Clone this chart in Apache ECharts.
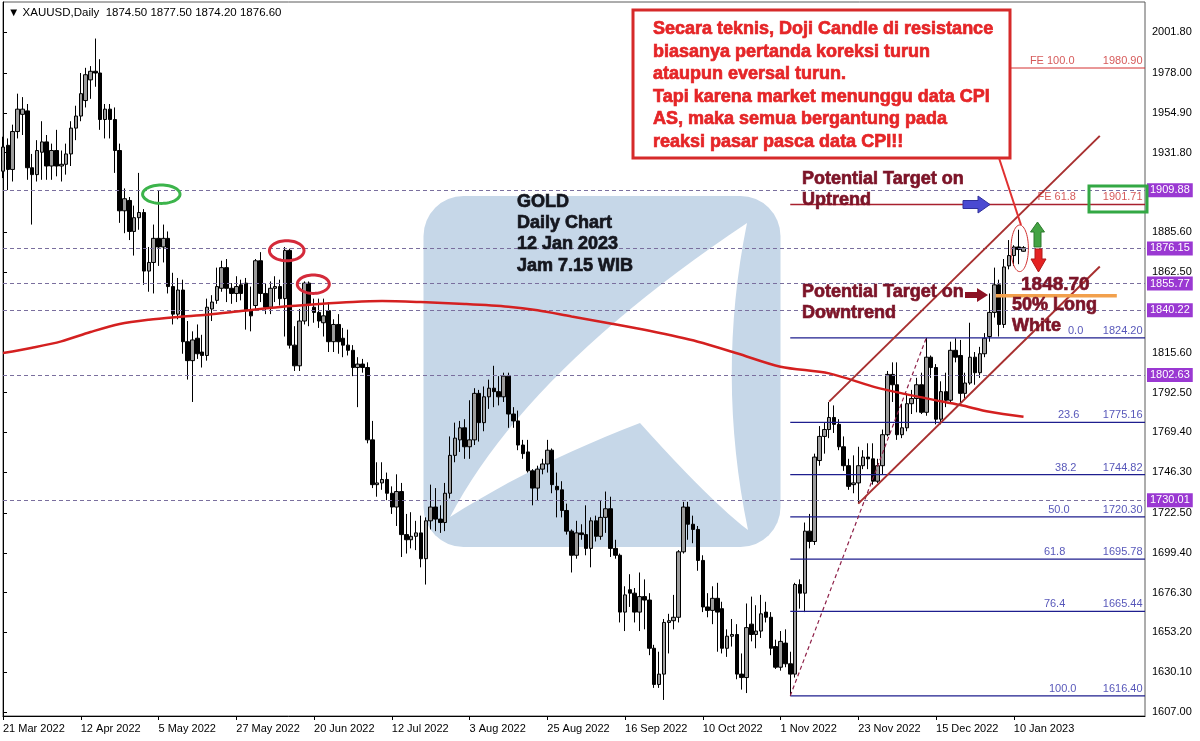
<!DOCTYPE html>
<html><head><meta charset="utf-8">
<script src="https://cdn.jsdelivr.net/npm/echarts@6/dist/echarts.min.js"></script>
<style>html,body{margin:0;padding:0;background:#fff}#c{width:1200px;height:741px}</style>
</head><body><div id="c"></div>
<script>
// ---------------- DATA ----------------
const holidays = ['2022-04-15', '2022-12-26', '2023-01-02'];
const futureSlots = 25;
const xTickEvery = 16;
const lastLabelIndex = 208;

const opens = [
1921,1936,1922,1944,1954,1956,1923,1919,1932,1938,
1924,1933,1924,1925,1931,1946,1953,1962,1974,1979,
1978,1951,1957,1951,1933,1898,1904,1886,1894,1897,
1863,1868,1882,1877,1882,1854,1838,1852,1822,1811,
1824,1816,1814,1841,1846,1853,1865,1853,1850,1855,
1856,1840,1843,1869,1850,1842,1853,1854,1847,1875,
1820,1808,1834,1856,1842,1839,1833,1840,1822,1832,
1824,1820,1817,1807,1809,1807,1765,1739,1740,1742,
1734,1726,1735,1710,1707,1709,1711,1696,1718,1726,
1719,1717,1734,1756,1765,1772,1761,1765,1792,1775,
1790,1795,1793,1790,1802,1780,1776,1762,1758,1747,
1737,1748,1751,1759,1738,1736,1724,1712,1698,1711,
1710,1702,1718,1709,1720,1725,1702,1698,1665,1678,
1676,1665,1674,1672,1644,1623,1629,1659,1660,1662,
1700,1726,1716,1713,1695,1668,1666,1673,1667,1644,
1651,1652,1629,1627,1658,1652,1654,1665,1662,1645,
1633,1647,1635,1629,1681,1676,1712,1706,1753,1767,
1771,1778,1774,1761,1750,1739,1740,1750,1755,1754,
1741,1750,1768,1803,1797,1768,1772,1786,1789,1797,
1781,1813,1807,1777,1793,1788,1817,1814,1792,1798,
1813,1804,1815,1825,1839,1855,1832,1866,1872,1877,
1874.5];
const highs = [
1941,1940,1948,1966,1964,1960,1931,1939,1950,1942,
1937,1945,1933,1937,1950,1959,1978,1981,1982,1998,
1986,1960,1960,1958,1937,1911,1906,1901,1920,1899,
1877,1890,1910,1890,1886,1862,1859,1858,1834,1828,
1832,1826,1847,1849,1865,1869,1870,1856,1860,1858,
1859,1854,1870,1874,1856,1857,1860,1858,1877,1876,
1831,1841,1857,1857,1847,1847,1847,1845,1835,1838,
1830,1829,1820,1813,1812,1810,1776,1752,1752,1746,
1738,1745,1740,1722,1723,1718,1721,1720,1739,1737,
1727,1740,1767,1775,1776,1777,1788,1795,1794,1796,
1800,1808,1802,1804,1804,1784,1782,1765,1765,1748,
1750,1754,1765,1760,1746,1741,1728,1713,1718,1716,
1727,1720,1721,1730,1735,1732,1707,1699,1680,1687,
1679,1688,1684,1676,1646,1642,1661,1664,1675,1701,
1729,1729,1721,1715,1698,1676,1680,1682,1671,1655,
1661,1658,1641,1670,1674,1669,1675,1671,1665,1649,
1654,1655,1642,1682,1684,1717,1722,1757,1773,1775,
1787,1785,1777,1767,1754,1756,1761,1759,1763,1763,
1754,1771,1805,1810,1810,1786,1792,1794,1801,1804,
1824.2,1814,1809,1799,1804,1822,1824,1823,1804,1833,
1816,1819,1827,1850,1865,1858,1870,1881,1878,1887,
1877.5];
const lows = [
1917,1910,1915,1940,1942,1916,1890,1915,1916,1916,
1916,1918,1915,1919,1924,1939,1950,1958,1963,1970,
1945,1940,1940,1920,1891,1885,1881,1872,1887,1855,
1851,1850,1866,1868,1850,1832,1835,1815,1800,1787,
1812,1807,1811,1834,1844,1851,1845,1844,1845,1846,
1829,1828,1841,1845,1838,1838,1845,1843,1825,1818,
1805,1805,1832,1831,1833,1830,1825,1816,1816,1815,
1813,1814,1802,1784,1804,1763,1737,1732,1736,1730,
1722,1715,1697,1699,1702,1701,1691,1681,1713,1712,
1711,1712,1731,1752,1758,1754,1754,1762,1764,1770,
1783,1784,1785,1787,1772,1772,1759,1754,1746,1727,
1730,1745,1746,1734,1720,1720,1710,1688,1696,1707,
1698,1691,1706,1707,1711,1697,1696,1659,1654,1668,
1659,1654,1655,1640,1621,1621,1614,1641,1655,1659,
1699,1707,1705,1689,1665,1662,1658,1642,1641,1639,
1645,1626,1620,1618,1648,1644,1650,1659,1640,1632,
1631,1633,1616.4,1627,1667,1665,1702,1704,1750,1757,
1766,1769,1759,1747,1736,1734,1728,1748,1748,1739,
1740,1745,1767,1787,1765,1766,1770,1780,1781,1780,
1779,1801,1774,1774,1784,1786,1810,1786,1789,1797,
1797,1801,1813,1822,1836,1825,1830,1864,1866,1867,
1874.2];
const closes = [
1935,1922,1944,1957,1957,1923,1919,1933,1938,1924,
1933,1924,1925,1931,1946,1953,1966,1977,1979,1978,
1951,1957,1951,1933,1898,1905,1886,1894,1897,1863,
1868,1882,1877,1882,1854,1838,1852,1822,1811,1823,
1815,1814,1842,1845,1854,1865,1853,1850,1854,1850,
1840,1837,1869,1850,1842,1853,1854,1847,1875,1820,
1808,1834,1856,1844,1839,1834,1837,1822,1832,1822,
1820,1817,1807,1809,1807,1765,1739,1740,1742,1734,
1726,1735,1710,1707,1709,1711,1696,1718,1726,1719,
1717,1734,1756,1766,1772,1761,1765,1792,1775,1790,
1795,1793,1790,1802,1780,1776,1762,1757,1747,1737,
1748,1751,1759,1739,1736,1724,1712,1698,1711,1710,
1702,1718,1709,1720,1725,1702,1698,1665,1675,1676,
1665,1674,1672,1644,1623,1629,1659,1660,1662,1700,
1726,1716,1713,1695,1668,1666,1673,1665,1644,1651,
1652,1629,1627,1656,1652,1654,1664,1662,1644,1633,
1648,1635,1629,1681,1676,1712,1706,1755,1767,1771,
1778,1774,1761,1750,1738,1740,1750,1755,1754,1741,
1750,1768,1803,1797,1768,1772,1786,1789,1797,1781,
1813,1807,1777,1793,1788,1817,1813,1792,1798,1813,
1804,1815,1824,1839,1855,1832,1865.4,1872,1877,1875.5,
1876.6];

// moving average: [bar index, price]
const maPoints = [[0,1815.4],[6,1818.5],[12,1822.2],[18,1827.6],[24,1832.3],[30,1834.8],[36,1836.4],[42,1837.7],[49,1839.8],[57,1842.2],[65,1843.9],[72,1845.1],[78,1845.6],[86,1845.0],[95,1843.9],[104,1842.3],[110,1840.2],[117,1836.6],[125,1832.6],[133,1828.3],[143,1822.0],[151,1815.3],[160,1807.5],[170,1803.6],[180,1795.2],[190,1789.1],[197,1785.2],[203,1781.3],[210,1778.4]];

const yTickValues = [2001.8,1978.0,1954.9,1931.8,1885.6,1862.5,1815.6,1792.5,1769.4,1746.3,1722.5,1699.4,1676.3,1653.2,1630.1,1607.0];
const srLevels = [1909.88, 1876.15, 1855.77, 1840.22, 1802.63, 1730.01];
const fibLevels = ['0.0','23.6','38.2','50.0','61.8','76.4','100.0'];
const fibValues = [1824.20, 1775.16, 1744.82, 1720.30, 1695.78, 1665.44, 1616.40];
const feLevels = ['FE 100.0', 'FE 61.8'];
const feValues = [1980.90, 1901.71];
const fibStart = 162;          // bar of the swing low
const fibDiagonal = [[162,1616.40],[190,1824.20]];
const channelUpper = [[170,1787.2],[225.7,1941.5]];
const channelLower = [[176,1728.0],[225.7,1865.7]];
const longWhite50 = 1848.70;
const longWhiteSpan = [204.3, 229.2];
const fe100Start = 205;

// ---------------- LAYOUT ----------------
const FONT = 'Liberation Sans';
const Y_MIN = 1604.68, Y_MAX = 2019.22;
const X_LAST = 235;
const fibLabelEnd = [222.4, 221.6, 221.0, 219.6, 218.7, 218.7, 221.0];
const feLabelEnd = [220.6, 220.9];
const valueLabelEnd = 234.6;

// ---------------- BUILD ----------------
function buildDates(n) {
  const mon = ['Jan','Feb','Mar','Apr','May','Jun','Jul','Aug','Sep','Oct','Nov','Dec'];
  const out = [];
  const d = new Date(Date.UTC(2022, 2, 21));
  while (out.length < n) {
    const wd = d.getUTCDay();
    const iso = d.toISOString().slice(0, 10);
    if (wd !== 0 && wd !== 6 && holidays.indexOf(iso) < 0)
      out.push(d.getUTCDate() + ' ' + mon[d.getUTCMonth()] + ' ' + d.getUTCFullYear());
    d.setUTCDate(d.getUTCDate() + 1);
  }
  return out;
}
const nBars = opens.length;
const categories = buildDates(nBars + futureSlots);
const candleData = opens.map((o, i) => [o, closes[i], lows[i], highs[i]]);

const showTick = (i) => i % xTickEvery === 0 && i <= lastLabelIndex;

function seg(data, color, width, extra) {
  return Object.assign({
    type: 'line', xAxisIndex: 1, yAxisIndex: 0, data: data, showSymbol: false,
    symbol: 'none', silent: true, animation: false,
    lineStyle: { color: color, width: width }
  }, extra || {});
}

const series = [];
series.push({
  type: 'candlestick', xAxisIndex: 0, yAxisIndex: 0, data: candleData,
  barWidth: 4, z: 3, silent: true,
  itemStyle: { color: '#9c9c9c', color0: '#000', borderColor: '#000', borderColor0: '#000', borderColorDoji: '#000', borderWidth: 1 },
  markLine: {
    silent: true, symbol: ['none', 'none'], animation: false,
    lineStyle: { type: [4, 3], color: '#7a6f9e', width: 1 },
    label: { show: true, position: 'end', distance: 2, formatter: (p) => Number(p.value).toFixed(2),
      color: '#fff', backgroundColor: '#9a38d2', padding: [2, 3, 1, 3], fontSize: 11, fontFamily: FONT },
    data: srLevels.map(v => ({ yAxis: v }))
  }
});
fibValues.forEach(v => series.push(seg([[fibStart, v], [X_LAST, v]], '#1e1e8e', 1.2, { z: 4 })));
series.push(seg(fibDiagonal, '#8e2048', 1.2, { z: 4, lineStyle: { color: '#8e2048', width: 1.2, type: [4, 3] } }));
series.push(seg([[fe100Start, feValues[0]], [X_LAST, feValues[0]]], '#d43030', 1, { z: 4 }));
series.push(seg([[fibStart, feValues[1]], [X_LAST, feValues[1]]], '#a8202e', 1.5, { z: 4 }));
series.push(seg(maPoints, '#d42020', 2.5, { z: 6, smooth: 0.3 }));
series.push(seg(channelUpper, '#a83030', 2, { z: 7 }));
series.push(seg(channelLower, '#a83030', 2, { z: 7 }));
series.push(seg([[longWhiteSpan[0], longWhite50], [longWhiteSpan[1], longWhite50]], '#f2a04c', 3.5, { z: 7 }));

const labelItems = [];
fibLevels.forEach((lv, k) => {
  labelItems.push({ value: [fibLabelEnd[k], fibValues[k]], label: { formatter: lv, color: '#2c2ca8' } });
  labelItems.push({ value: [valueLabelEnd, fibValues[k]], label: { formatter: fibValues[k].toFixed(2), color: '#2c2ca8' } });
});
feLevels.forEach((lv, k) => {
  labelItems.push({ value: [feLabelEnd[k], feValues[k]], label: { formatter: lv, color: '#cc3030' } });
  labelItems.push({ value: [valueLabelEnd, feValues[k]], label: { formatter: feValues[k].toFixed(2), color: '#cc3030' } });
});
series.push({
  type: 'scatter', xAxisIndex: 1, yAxisIndex: 0, data: labelItems, symbolSize: 1, silent: true, z: 8,
  itemStyle: { color: 'rgba(0,0,0,0)' },
  label: { show: true, position: 'left', distance: 0, offset: [0, -7], fontSize: 11, fontFamily: FONT }
});

// ---------------- GRAPHICS (annotations) ----------------
function ellipsePts(cx, cy, rx, ry) {
  const pts = [];
  for (let k = 0; k < 60; k++) { const a = k / 60 * Math.PI * 2; pts.push([cx + rx * Math.cos(a), cy + ry * Math.sin(a)]); }
  return pts;
}
function quad(p0, c, p1, n) {
  const pts = [];
  for (let k = 1; k <= n; k++) { const t = k / n, u = 1 - t;
    pts.push([u * u * p0[0] + 2 * u * t * c[0] + t * t * p1[0], u * u * p0[1] + 2 * u * t * c[1] + t * t * p1[1]]); }
  return pts;
}
function txt(x, y, text, size, color, lh, bold) {
  return { type: 'text', z: 100, x: x, y: y, style: { text: text, fontSize: size, fontWeight: bold ? 'bold' : 'normal', fontFamily: FONT, fill: color, stroke: bold ? color : null, lineWidth: bold ? 0.7 : 0, lineHeight: lh, textVerticalAlign: 'top', verticalAlign: 'top' } };
}
const A = [747, 223], B = [450, 517], C = [640, 423], D = [748, 530];
const sail = [A].concat(quad(A, [527, 370], B, 24), quad(B, [535, 463], C, 12), quad(C, [712, 503], D, 12), quad(D, [716, 376], A, 16));

const ov = 100;
const graphics = [
  { type: 'rect', z: 0, shape: { x: 423.5, y: 196, width: 357, height: 351, r: 40 }, style: { fill: '#c6d7e8' } },
  { type: 'polygon', z: 1, shape: { points: sail }, style: { fill: '#ffffff' } },
  { type: 'text', z: ov, x: 8, y: 13, style: { text: '\u25BC XAUUSD,Daily  1874.50 1877.50 1874.20 1876.60', fontSize: 11.5, fontFamily: FONT, fill: '#000', textVerticalAlign: 'middle', verticalAlign: 'middle' } },
  { type: 'rect', z: ov, shape: { x: 633, y: 10, width: 377, height: 148 }, style: { fill: '#fff', stroke: '#d62a2a', lineWidth: 3 } },
  txt(653, 18, 'Secara teknis, Doji Candle di resistance\nbiasanya pertanda koreksi turun\nataupun eversal turun.\nTapi karena market menunggu data CPI\nAS, maka semua bergantung pada\nreaksi pasar pasca data CPI!!', 18, '#e52527', 22.5, true),
  { type: 'line', z: ov, shape: { x1: 999, y1: 158, x2: 1021, y2: 225 }, style: { stroke: '#e03030', lineWidth: 2 } },
  txt(517, 191, 'GOLD\nDaily Chart\n12 Jan 2023\nJam 7.15 WIB', 18, '#14161e', 21.3, true),
  txt(802, 168, 'Potential Target on\nUptrend', 18, '#7c1428', 21.3, true),
  txt(802, 282, 'Potential Target on\nDowntrend', 18, '#7c1428', 20.7, true),
  txt(1021, 274, '1848.70', 19, '#7c1428', 21, true),
  txt(1012, 295, '50% Long\nWhite', 18, '#7c1428', 21, true),
  { type: 'polygon', z: ov, shape: { points: [[963, 200.5], [978, 200.5], [978, 196], [990, 204.5], [978, 213], [978, 208.5], [963, 208.5]] }, style: { fill: '#4a4ad2', stroke: '#30309a', lineWidth: 1 } },
  { type: 'polygon', z: ov, shape: { points: [[965, 292], [977, 292], [977, 288], [988, 295], [977, 302], [977, 298], [965, 298]] }, style: { fill: '#8c1224' } },
  { type: 'polygon', z: ov, shape: { points: [[1037.5, 222], [1044.5, 232], [1041, 232], [1041, 247], [1034, 247], [1034, 232], [1030.5, 232]] }, style: { fill: '#43a343', stroke: '#2d7a2d', lineWidth: 1 } },
  { type: 'polygon', z: ov, shape: { points: [[1035, 249], [1042, 249], [1042, 259], [1046, 259], [1038.5, 272], [1031, 259], [1035, 259]] }, style: { fill: '#e42222', stroke: '#b01818', lineWidth: 1 } },
  { type: 'polygon', z: ov, shape: { points: ellipsePts(161.3, 194.2, 18.7, 9.2) }, style: { fill: null, stroke: '#3cb44b', lineWidth: 3 } },
  { type: 'polygon', z: ov, shape: { points: ellipsePts(286.7, 250.7, 17.3, 10) }, style: { fill: null, stroke: '#d42a3a', lineWidth: 3 } },
  { type: 'polygon', z: ov, shape: { points: ellipsePts(313.3, 284.2, 16, 9.2) }, style: { fill: null, stroke: '#d42a3a', lineWidth: 3 } },
  { type: 'polygon', z: ov, shape: { points: ellipsePts(1019.7, 248.3, 8.7, 23.3) }, style: { fill: null, stroke: '#d03030', lineWidth: 1 } },
  { type: 'rect', z: ov, shape: { x: 1089, y: 186, width: 58, height: 26 }, style: { fill: null, stroke: '#33a844', lineWidth: 3 } }
];

const option = {
  animation: false,
  textStyle: { fontFamily: FONT },
  grid: { left: 3, right: 55, top: 2, bottom: 25, show: true, borderColor: '#5a5a5a', borderWidth: 1, backgroundColor: 'transparent', containLabel: false, outerBoundsMode: 'none' },
  xAxis: [
    { type: 'category', data: categories, boundaryGap: false,
      axisLine: { show: true, lineStyle: { color: '#000', width: 1 } },
      axisTick: { show: true, interval: showTick, length: 4, lineStyle: { color: '#000' } },
      axisLabel: { show: true, interval: showTick, align: 'left', fontSize: 11, color: '#000', fontFamily: FONT, margin: 7 },
      splitLine: { show: false } },
    { type: 'value', min: 0, max: X_LAST, show: false, splitLine: { show: false } }
  ],
  yAxis: [{ type: 'value', position: 'right', min: Y_MIN, max: Y_MAX, scale: true,
    axisLine: { show: true, lineStyle: { color: '#000', width: 1 } },
    axisTick: { show: true, length: 4, customValues: yTickValues, lineStyle: { color: '#000' } },
    axisLabel: { show: true, customValues: yTickValues, formatter: (v) => Number(v).toFixed(2), fontSize: 11, color: '#000', fontFamily: FONT, margin: 7 },
    splitLine: { show: false } }],
  series: series,
  graphic: { elements: graphics }
};
const chart = echarts.init(document.getElementById('c'));
chart.setOption(option);
</script></body></html>
